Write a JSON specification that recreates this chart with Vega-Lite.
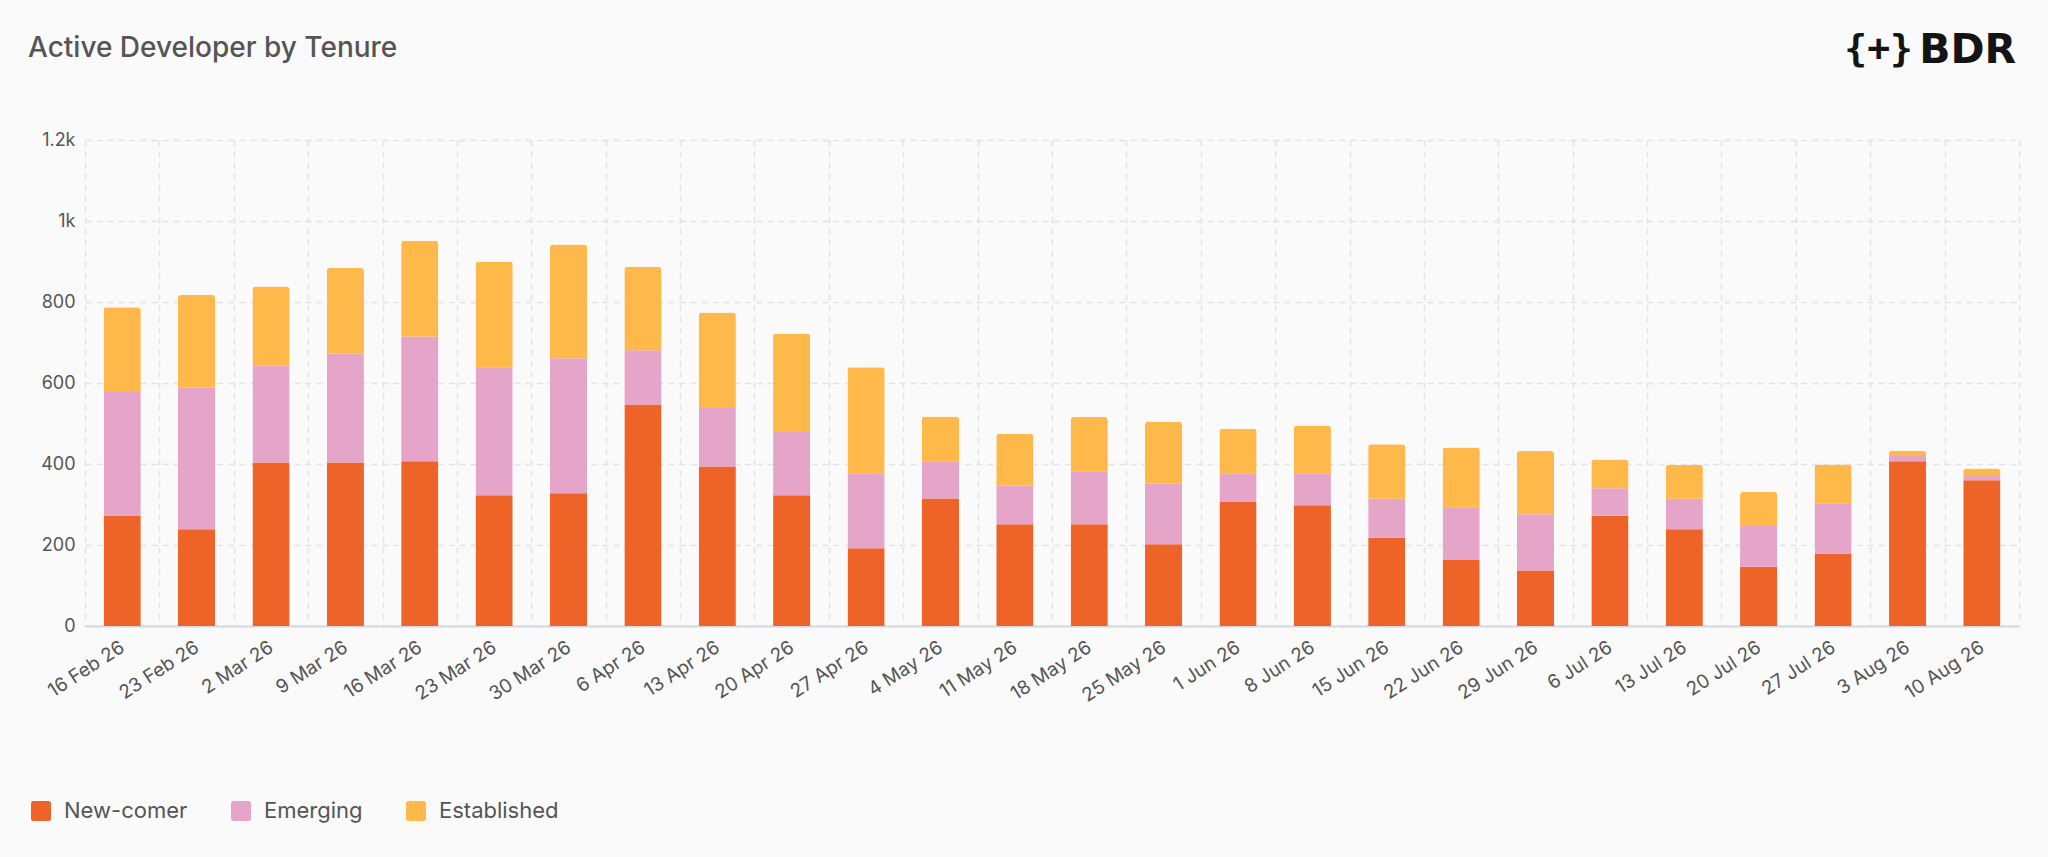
{
  "$schema": "https://vega.github.io/schema/vega-lite/v6.json",
  "autosize": {"type": "none"},
  "width": 1934,
  "height": 486,
  "padding": {"left": 85, "top": 140, "right": 29, "bottom": 231},
  "background": "#fafafa",
  "title": {
    "text": "Active Developer by Tenure",
    "anchor": "start",
    "frame": "group",
    "dx": -57,
    "offset": -33,
    "font": "Inter",
    "fontSize": 28,
    "fontWeight": 500,
    "color": "#555555"
  },
  "config": {
    "view": {"stroke": null},
    "font": "Inter",
    "axis": {
      "labelFont": "Inter",
      "labelColor": "#555555",
      "ticks": false,
      "grid": true,
      "gridColor": "#e2e3e8",
      "gridDash": [6, 5],
      "gridWidth": 1.5
    }
  },
  "layer": [
    {
      "data": {
        "values": [
          {"week": "16 Feb 26", "New-comer": 273, "Emerging": 307, "Established": 207},
          {"week": "23 Feb 26", "New-comer": 239, "Emerging": 350, "Established": 228},
          {"week": "2 Mar 26", "New-comer": 404, "Emerging": 239, "Established": 195},
          {"week": "9 Mar 26", "New-comer": 404, "Emerging": 269, "Established": 211},
          {"week": "16 Mar 26", "New-comer": 407, "Emerging": 308, "Established": 236},
          {"week": "23 Mar 26", "New-comer": 323, "Emerging": 316, "Established": 261},
          {"week": "30 Mar 26", "New-comer": 328, "Emerging": 333, "Established": 281},
          {"week": "6 Apr 26", "New-comer": 547, "Emerging": 134, "Established": 206},
          {"week": "13 Apr 26", "New-comer": 394, "Emerging": 144, "Established": 236},
          {"week": "20 Apr 26", "New-comer": 323, "Emerging": 156, "Established": 243},
          {"week": "27 Apr 26", "New-comer": 192, "Emerging": 185, "Established": 262},
          {"week": "4 May 26", "New-comer": 315, "Emerging": 92, "Established": 110},
          {"week": "11 May 26", "New-comer": 251, "Emerging": 96, "Established": 128},
          {"week": "18 May 26", "New-comer": 251, "Emerging": 131, "Established": 134},
          {"week": "25 May 26", "New-comer": 202, "Emerging": 150, "Established": 152},
          {"week": "1 Jun 26", "New-comer": 306, "Emerging": 71, "Established": 110},
          {"week": "8 Jun 26", "New-comer": 298, "Emerging": 79, "Established": 118},
          {"week": "15 Jun 26", "New-comer": 218, "Emerging": 96, "Established": 135},
          {"week": "22 Jun 26", "New-comer": 163, "Emerging": 130, "Established": 148},
          {"week": "29 Jun 26", "New-comer": 137, "Emerging": 139, "Established": 156},
          {"week": "6 Jul 26", "New-comer": 272, "Emerging": 68, "Established": 71},
          {"week": "13 Jul 26", "New-comer": 239, "Emerging": 75, "Established": 84},
          {"week": "20 Jul 26", "New-comer": 146, "Emerging": 101, "Established": 84},
          {"week": "27 Jul 26", "New-comer": 179, "Emerging": 123, "Established": 97},
          {"week": "3 Aug 26", "New-comer": 407, "Emerging": 13, "Established": 13},
          {"week": "10 Aug 26", "New-comer": 360, "Emerging": 13, "Established": 16}
        ]
      },
      "transform": [
        {"fold": ["New-comer", "Emerging", "Established"], "as": ["tenure", "developers"]},
        {"window": [{"op": "row_number", "as": "layer"}], "groupby": ["week"]}
      ],
      "mark": {"type": "bar", "width": {"band": 0.5}, "cornerRadiusEnd": 3},
      "encoding": {
        "x": {
          "field": "week",
          "type": "ordinal",
          "sort": null,
          "title": null,
          "scale": {"paddingInner": 0, "paddingOuter": 0},
          "axis": {
            "labelAngle": -33,
            "labelFontSize": 19,
            "labelAlign": "right",
            "labelBaseline": "middle",
            "labelPadding": 19,
            "tickBand": "extent",
            "domainColor": "#d5d8e0",
            "domainWidth": 2
          }
        },
        "y": {
          "field": "developers",
          "type": "quantitative",
          "stack": "zero",
          "title": null,
          "scale": {"domain": [0, 1200], "nice": false},
          "axis": {
            "values": [0, 200, 400, 600, 800, 1000, 1200],
            "labelExpr": "datum.value >= 1000 ? (datum.value / 1000) + 'k' : datum.value",
            "labelFontSize": 18,
            "labelPadding": 10,
            "domain": false
          }
        },
        "order": {"field": "layer", "type": "quantitative", "sort": "ascending"},
        "color": {
          "field": "tenure",
          "type": "nominal",
          "sort": ["New-comer", "Emerging", "Established"],
          "scale": {
            "domain": ["New-comer", "Emerging", "Established"],
            "range": ["#ee6328", "#e5a5c8", "#ffb84a"]
          },
          "legend": {
            "title": null,
            "orient": "none",
            "direction": "horizontal",
            "legendX": -55,
            "legendY": 660,
            "symbolType": "M-0.75,-1H0.75Q1,-1 1,-0.75V0.75Q1,1 0.75,1H-0.75Q-1,1 -1,0.75V-0.75Q-1,-1 -0.75,-1Z",
            "symbolSize": 400,
            "symbolStrokeWidth": 0,
            "labelFont": "Inter",
            "labelFontSize": 22,
            "labelColor": "#555555",
            "labelOffset": 12,
            "columnPadding": 42
          }
        }
      }
    },
    {
      "data": {"values": [{"logo": "BDR"}]},
      "mark": {
        "type": "text",
        "align": "right",
        "baseline": "alphabetic",
        "dx": -3,
        "font": "DejaVu Sans",
        "fontSize": 41,
        "fontWeight": "bold",
        "color": "#141414"
      },
      "encoding": {
        "text": {"field": "logo"},
        "x": {"value": "width"},
        "y": {"value": -77}
      }
    },
    {
      "data": {"values": [{"logo": "{+}"}]},
      "mark": {
        "type": "text",
        "align": "right",
        "baseline": "alphabetic",
        "dx": -106,
        "font": "DejaVu Sans Mono",
        "fontSize": 38,
        "fontWeight": "bold",
        "letterSpacing": -6,
        "color": "#141414"
      },
      "encoding": {
        "text": {"field": "logo"},
        "x": {"value": "width"},
        "y": {"value": -79}
      }
    }
  ]
}
